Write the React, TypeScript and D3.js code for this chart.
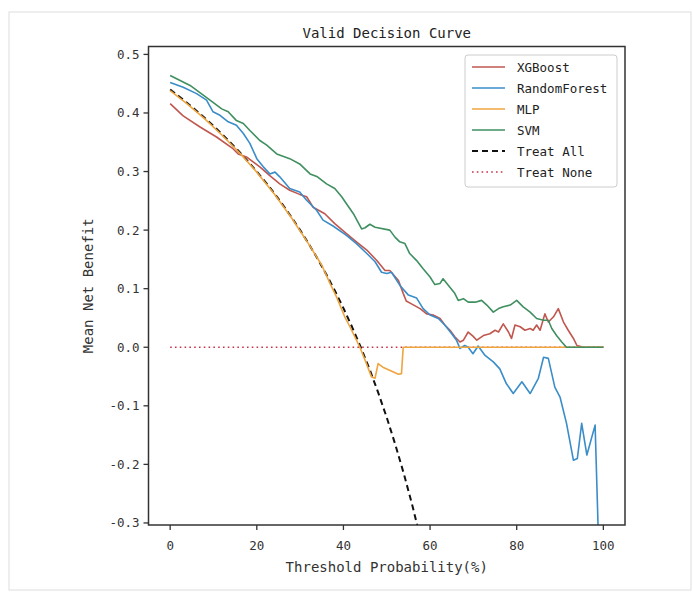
import React from "react";
import * as d3 from "d3";

const xgbX = [0, 3, 6.9, 10.7, 14.5, 15.7, 17.6, 20.7, 23, 25.3, 27.6, 29.9, 31.5, 33, 35.7, 38, 40.7, 43, 45.4, 47.7, 49.6, 50.7, 52.7, 53.8, 54.5, 55.7, 57.7, 59.2, 60.7, 62.3, 63.4, 64.6, 65.7, 66.9, 67.7, 68.8, 69.9, 70.8, 72.3, 73.8, 75, 75.8, 76.9, 78.1, 78.8, 79.6, 80.8, 81.9, 83.1, 83.8, 84.6, 85.4, 86.5, 87.3, 88.5, 89.6, 90.8, 91.9, 93.1, 93.9, 95.4, 100];
const xgbY = [0.416, 0.395, 0.376, 0.359, 0.339, 0.330, 0.325, 0.308, 0.293, 0.279, 0.268, 0.261, 0.257, 0.239, 0.228, 0.211, 0.194, 0.180, 0.166, 0.148, 0.131, 0.131, 0.114, 0.092, 0.079, 0.074, 0.066, 0.057, 0.055, 0.049, 0.038, 0.029, 0.018, 0.009, 0.012, 0.026, 0.019, 0.012, 0.020, 0.023, 0.029, 0.026, 0.040, 0.026, 0.015, 0.038, 0.035, 0.029, 0.032, 0.029, 0.038, 0.029, 0.057, 0.043, 0.052, 0.066, 0.043, 0.029, 0.015, 0.003, 0, 0];

const rfX = [0, 3, 6.1, 8.4, 9.9, 11.5, 13.4, 15.3, 16.9, 18.4, 20, 21.5, 23, 24.2, 25.3, 27.6, 29.9, 31.5, 33.8, 35.3, 37.6, 40.7, 43, 45.4, 47.3, 48.8, 50, 51.1, 53, 55, 56.9, 58.4, 60, 61.9, 63.4, 65, 66.1, 66.9, 68, 68.8, 69.9, 71.1, 72.7, 74.6, 76.1, 77.6, 79.2, 81.2, 83.1, 85, 86.2, 87.3, 88.8, 90, 91.5, 93.1, 94, 95, 96.2, 98.1, 99];
const rfY = [0.452, 0.444, 0.433, 0.422, 0.402, 0.396, 0.385, 0.379, 0.365, 0.348, 0.322, 0.308, 0.296, 0.299, 0.291, 0.271, 0.265, 0.251, 0.234, 0.217, 0.207, 0.191, 0.177, 0.160, 0.146, 0.128, 0.126, 0.128, 0.106, 0.089, 0.084, 0.066, 0.055, 0.049, 0.038, 0.023, 0.012, -0.002, 0.003, 0, -0.011, 0.002, -0.014, -0.025, -0.037, -0.062, -0.079, -0.059, -0.079, -0.053, -0.017, -0.019, -0.068, -0.085, -0.130, -0.193, -0.190, -0.130, -0.184, -0.133, -0.36];

const mlpX = [0, 4, 8, 12, 16, 20, 24, 28, 32, 35, 36.9, 38.4, 40.3, 41.5, 43.8, 45, 46.5, 47.3, 48, 49.1, 52.7, 53.4, 53.8, 100];
const mlpY = [0.438, 0.415, 0.390, 0.362, 0.332, 0.299, 0.262, 0.221, 0.176, 0.140, 0.109, 0.086, 0.052, 0.035, 0, -0.022, -0.051, -0.053, -0.028, -0.034, -0.046, -0.045, 0, 0];

const svmX = [0, 4.6, 9.2, 11.9, 13.4, 15.3, 16.9, 18.4, 20.7, 22.3, 24.6, 27.6, 29.9, 32.3, 34, 36.1, 38, 39.6, 40.7, 42.3, 44.2, 45, 46.1, 47.3, 50.7, 51.9, 53, 54.2, 55.3, 56.9, 58.4, 60, 61.1, 62.3, 63, 64.2, 65.7, 66.5, 67.7, 68.8, 70.4, 71.9, 73.1, 74.6, 75.8, 76.9, 78.5, 80, 81.5, 83.1, 84.6, 86.2, 87.3, 88.1, 89.2, 90.4, 91.5, 100];
const svmY = [0.464, 0.447, 0.422, 0.407, 0.402, 0.387, 0.382, 0.370, 0.353, 0.345, 0.330, 0.322, 0.313, 0.296, 0.291, 0.279, 0.271, 0.257, 0.245, 0.228, 0.202, 0.204, 0.210, 0.205, 0.200, 0.188, 0.180, 0.177, 0.160, 0.148, 0.134, 0.120, 0.107, 0.109, 0.117, 0.106, 0.092, 0.080, 0.083, 0.077, 0.077, 0.080, 0.072, 0.060, 0.066, 0.069, 0.072, 0.080, 0.069, 0.060, 0.049, 0.046, 0.046, 0.032, 0.020, 0.009, 0, 0];

const allX = [0, 2, 4, 6, 8, 10, 12, 14, 16, 18, 20, 22, 24, 26, 28, 30, 32, 34, 36, 38, 40, 42, 44, 46, 48, 50, 52, 54, 56, 58];
const allY = [0.44, 0.4286, 0.4167, 0.4043, 0.3913, 0.3778, 0.3636, 0.3488, 0.3333, 0.3171, 0.30, 0.2821, 0.2632, 0.2432, 0.2222, 0.20, 0.1765, 0.1515, 0.125, 0.0968, 0.0667, 0.0345, 0, -0.037, -0.0769, -0.12, -0.1667, -0.2174, -0.2727, -0.3333];

const noneX = [0, 100];
const noneY = [0, 0];

const xTicks = [0, 20, 40, 60, 80, 100];
const yTicks = [0.5, 0.4, 0.3, 0.2, 0.1, 0.0, -0.1, -0.2, -0.3];

const seriesNames = ["XGBoost", "RandomForest", "MLP", "SVM", "Treat All", "Treat None"];

const FONT = "'DejaVu Sans Mono', 'Liberation Mono', monospace";

export default function App() {
  const left = 148.5, right = 625, top = 46.5, bottom = 525;
  const x = d3.scaleLinear().domain([-5, 105]).range([left, right]);
  const y = d3.scaleLinear().domain([-0.3035, 0.5135]).range([bottom, top]);
  const line = d3.line<[number, number]>().x((d) => x(d[0])).y((d) => y(d[1]));
  const zip = (a: number[], b: number[]) => a.map((v, i) => [v, b[i]] as [number, number]);

  const series = [
    { name: seriesNames[0], xs: xgbX, ys: xgbY, color: "#c0574f", width: 1.6, dash: "" },
    { name: seriesNames[1], xs: rfX, ys: rfY, color: "#3a8dc8", width: 1.6, dash: "" },
    { name: seriesNames[2], xs: mlpX, ys: mlpY, color: "#eea43f", width: 1.6, dash: "" },
    { name: seriesNames[3], xs: svmX, ys: svmY, color: "#3f8f60", width: 1.6, dash: "" },
    { name: seriesNames[4], xs: allX, ys: allY, color: "#111111", width: 2, dash: "6,4" },
    { name: seriesNames[5], xs: noneX, ys: noneY, color: "#c8344a", width: 1.6, dash: "1.6,3.2" },
  ];
  const drawOrder = [5, 4, 0, 1, 2, 3];

  return (
    <svg width={693} height={592} style={{ position: "fixed", left: 0, top: 0, background: "#fff" }}>
      <rect x={9} y={12} width={682} height={578} fill="#fff" stroke="#dddddd" strokeWidth={1} />
      <defs>
        <clipPath id="plotclip">
          <rect x={left} y={top} width={right - left} height={bottom - top} />
        </clipPath>
      </defs>
      <text x={(left + right) / 2} y={38} textAnchor="middle" fontFamily={FONT} fontSize={14} fill="#222">
        Valid Decision Curve
      </text>
      <g clipPath="url(#plotclip)">
        {drawOrder.map((i) => {
          const s = series[i];
          return (
            <path key={s.name} d={line(zip(s.xs, s.ys)) || ""} fill="none" stroke={s.color}
              strokeWidth={s.width} strokeDasharray={s.dash || undefined} strokeLinejoin="round" />
          );
        })}
      </g>
      <rect x={left} y={top} width={right - left} height={bottom - top} fill="none" stroke="#333" strokeWidth={1.5} />
      {xTicks.map((t) => (
        <g key={"x" + t}>
          <line x1={x(t)} x2={x(t)} y1={bottom} y2={bottom + 5} stroke="#333" strokeWidth={1.3} />
          <text x={x(t)} y={550} textAnchor="middle" fontFamily={FONT} fontSize={12.5} fill="#333">{t}</text>
        </g>
      ))}
      {yTicks.map((t) => (
        <g key={"y" + t}>
          <line x1={left - 5} x2={left} y1={y(t)} y2={y(t)} stroke="#333" strokeWidth={1.3} />
          <text x={left - 9} y={y(t) + 4.5} textAnchor="end" fontFamily={FONT} fontSize={12.5} fill="#333">
            {t.toFixed(1)}
          </text>
        </g>
      ))}
      <text x={(left + right) / 2} y={572} textAnchor="middle" fontFamily={FONT} fontSize={14} fill="#333">
        Threshold Probability(%)
      </text>
      <text transform={`translate(93, ${(top + bottom) / 2}) rotate(-90)`} textAnchor="middle" fontFamily={FONT} fontSize={14} fill="#333">
        Mean Net Benefit
      </text>
      <g>
        <rect x={465} y={55} width={152} height={132} rx={3} fill="#fff" fillOpacity={0.85} stroke="#cccccc" strokeWidth={1} />
        {series.map((s, i) => {
          const ly = 67 + i * 21;
          return (
            <g key={"lg" + s.name}>
              <line x1={472} x2={505} y1={ly} y2={ly} stroke={s.color} strokeWidth={s.width}
                strokeDasharray={s.dash || undefined} />
              <text x={517} y={ly + 4.5} fontFamily={FONT} fontSize={12.5} fill="#222">{s.name}</text>
            </g>
          );
        })}
      </g>
    </svg>
  );
}
